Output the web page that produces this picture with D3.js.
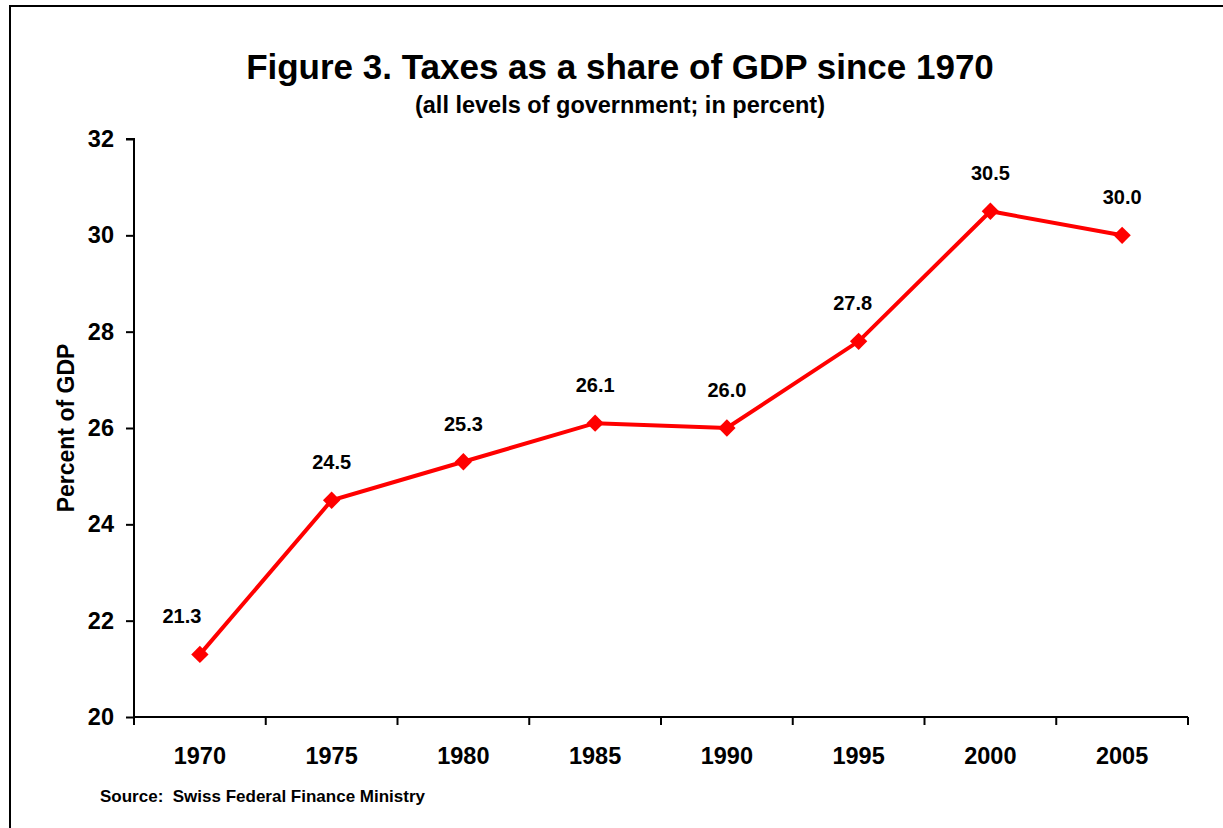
<!DOCTYPE html>
<html><head><meta charset="utf-8">
<script src="https://cdn.jsdelivr.net/npm/d3@7"></script>
<style>body{margin:0;background:#fff}svg{display:block;font-family:"Liberation Sans",Arial,sans-serif}</style>
</head><body>
<svg id="c" width="1223" height="828"></svg>
<script>
const years = ["1970","1975","1980","1985","1990","1995","2000","2005"];
const values = [21.3, 24.5, 25.3, 26.1, 26.0, 27.8, 30.5, 30.0];
const yTicks = [20, 22, 24, 26, 28, 30, 32];
const title = "Figure 3. Taxes as a share of GDP since 1970";
const subtitle = "(all levels of government; in percent)";
const yLabel = "Percent of GDP";
const source = "Source:\u00a0\u00a0Swiss Federal Finance Ministry";

const svg = d3.select("#c");
const m = {left:134, right:1188, top:139, bottom:717};
const x = d3.scaleBand().domain(years).range([m.left, m.right]);
const y = d3.scaleLinear().domain([20, 32]).range([m.bottom, m.top]);
const FF = '"Liberation Sans",Arial,sans-serif';

// frame
svg.append("path").attr("d", "M10,829 L10,6 L1224,6").attr("fill","none").attr("stroke","#000").attr("stroke-width",2);

svg.append("text").attr("x", 620).attr("y", 79).attr("text-anchor","middle")
  .attr("font-size", 35).attr("font-weight","bold").text(title);
svg.append("text").attr("x", 620).attr("y", 113).attr("text-anchor","middle")
  .attr("font-size", 23.5).attr("font-weight","bold").text(subtitle);

const yAxis = svg.append("g").attr("transform", `translate(${m.left},0)`)
  .call(d3.axisLeft(y).tickValues(yTicks).tickSize(8).tickPadding(12).tickFormat(d3.format("d")));
const xAxis = svg.append("g").attr("transform", `translate(0,${m.bottom})`)
  .call(d3.axisBottom(x).tickSize(0).tickPadding(30));
// x ticks at band boundaries
xAxis.selectAll(".bound").data(d3.range(years.length + 1)).enter().append("line")
  .attr("x1", i => m.left + i * x.step()).attr("x2", i => m.left + i * x.step())
  .attr("y1", 0).attr("y2", 8).attr("stroke", "#000").attr("stroke-width", 2);
[yAxis, xAxis].forEach(g => {
  g.select(".domain").attr("stroke-width", 2);
  g.selectAll(".tick line").attr("stroke-width", 2);
  g.selectAll("text").attr("font-size", 23.5).attr("font-weight","bold").attr("fill","#000")
    .attr("font-family", FF);
});
xAxis.select(".domain").attr("d", `M${m.left},0H${m.right}`);
yAxis.select(".domain").attr("d", `M0,${m.bottom}V${m.top}H-8`);

svg.append("text").attr("transform", `translate(74,${(m.top+m.bottom)/2}) rotate(-90)`)
  .attr("text-anchor","middle").attr("font-size", 23).attr("font-weight","bold").text(yLabel);

const cx = d => x(d) + x.bandwidth()/2;
const pts = years.map((d,i) => [cx(d), y(values[i])]);
svg.append("path").attr("d", d3.line()(pts)).attr("fill","none").attr("stroke","#ff0000").attr("stroke-width",4);
const sym = d3.symbol().type(d3.symbolSquare).size(150);
svg.selectAll(".pt").data(pts).enter().append("path")
  .attr("transform", p => `translate(${p[0]},${p[1]}) rotate(45)`).attr("d", sym).attr("fill","#ff0000");

svg.selectAll(".lbl").data(values).enter().append("text")
  .attr("x", (v,i) => pts[i][0] + (i === 0 ? -18 : (i === 5 ? -6 : 0)))
  .attr("y", (v,i) => pts[i][1] - 31)
  .attr("text-anchor","middle").attr("font-size", 20).attr("font-weight","bold")
  .text(v => v.toFixed(1));

svg.append("text").attr("x", 100).attr("y", 802).attr("font-size", 17).attr("font-weight","bold").text(source);
</script>
</body></html>
